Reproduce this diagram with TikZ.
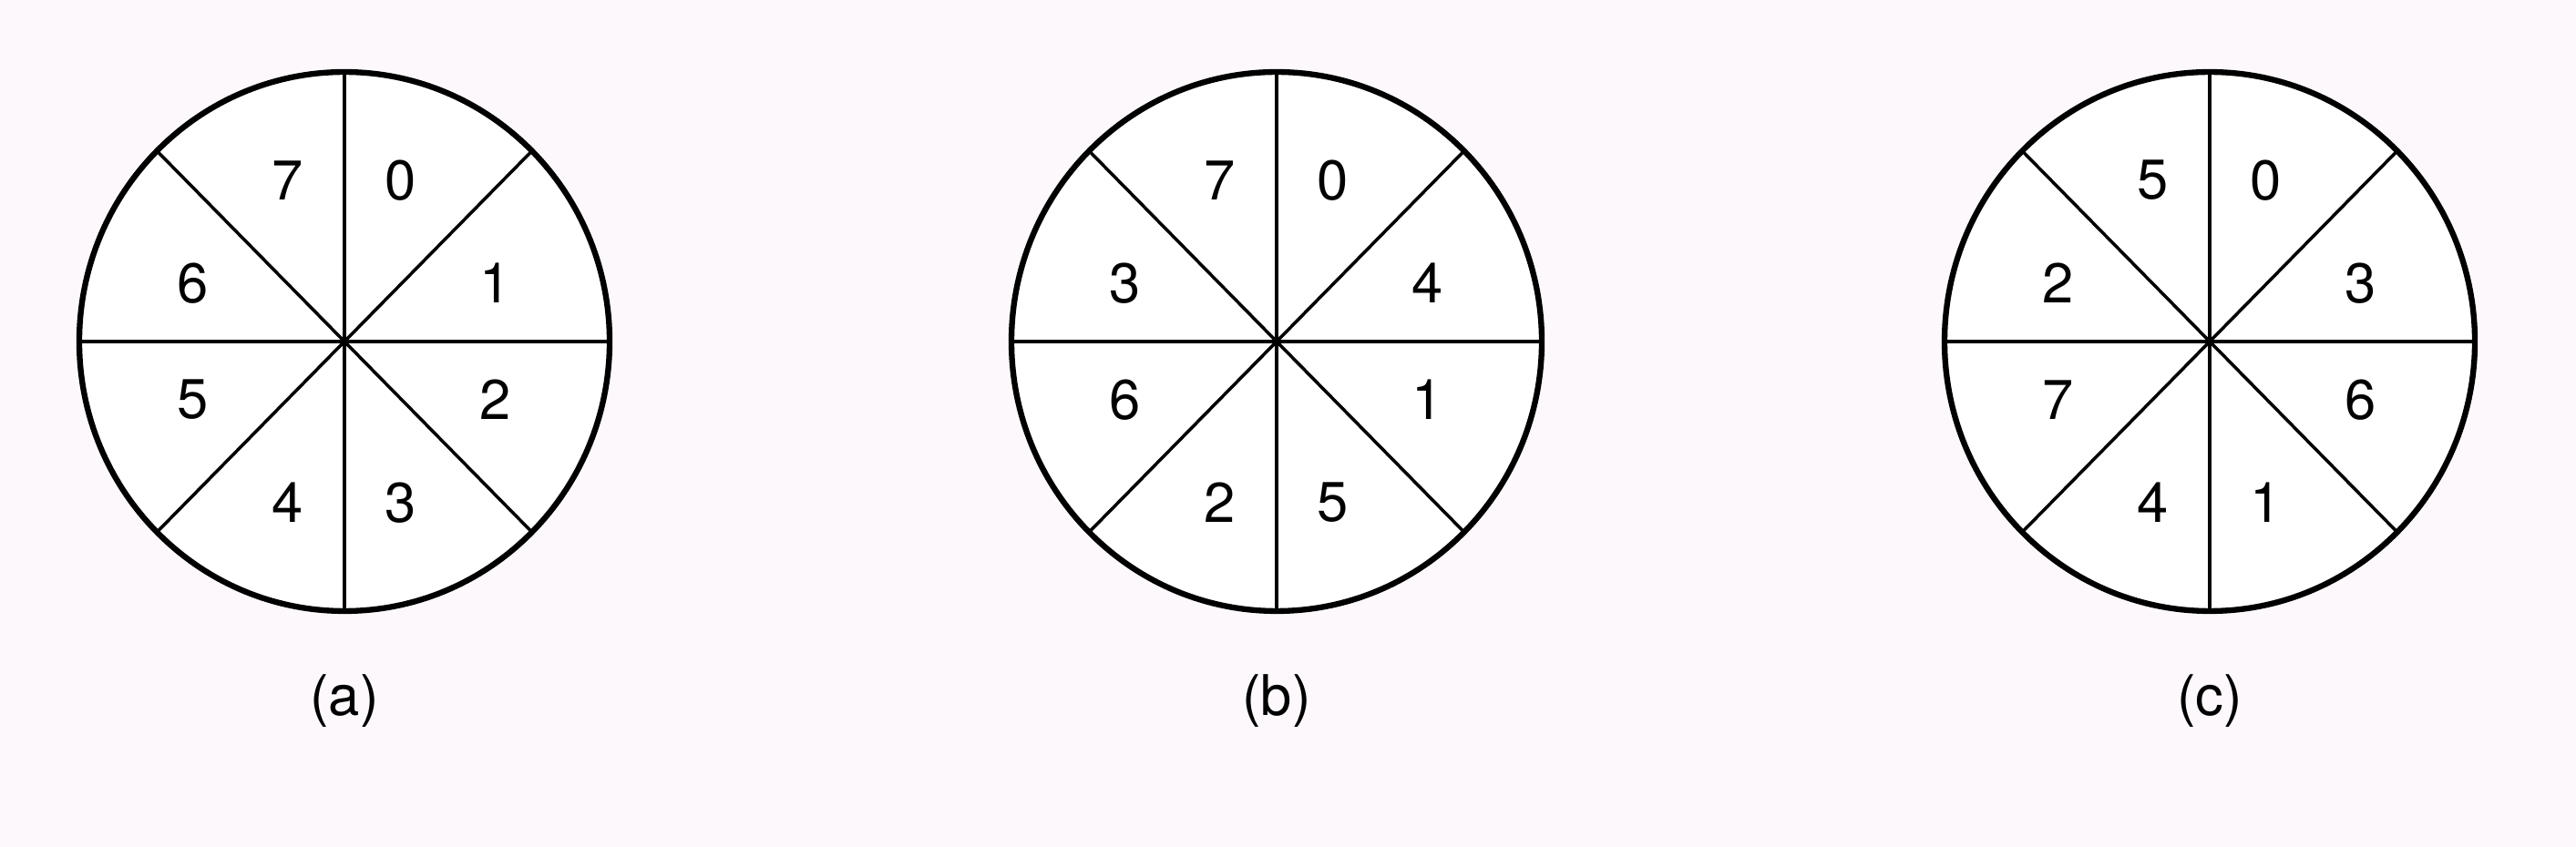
\documentclass[tikz,border=0pt]{standalone}
\usepackage{fontspec}
\setmainfont{TeX Gyre Heros}
\usetikzlibrary{positioning}
\definecolor{paper}{RGB}{252,248,252}

\begin{document}
\begin{tikzpicture}[every node/.style={font=\fontsize{17.5}{20}\selectfont,inner sep=0pt},
  rim/.style={line width=1.8pt},
  spoke/.style={line width=1pt}]
\fill[paper] (0,0) rectangle (28.27,9.30);
\useasboundingbox (0,0) rectangle (28.27,9.30);
% wheel (a)
\begin{scope}[shift={(3.78,5.55)},yscale=1.017]
\coordinate (ca) at (0,0);
\fill[white] (ca) circle (2.91);
\foreach \t in {0,45,...,315} \draw[spoke] (ca) -- (\t:2.91);
\draw[rim] (ca) circle (2.91);
\node (a0) at (0.62,1.74) {0};
\node (a1) at (1.66,0.63) {1};
\node (a2) at (1.66,-0.63) {2};
\node (a3) at (0.62,-1.74) {3};
\node (a4) at (-0.62,-1.74) {4};
\node (a5) at (-1.66,-0.63) {5};
\node (a6) at (-1.66,0.63) {6};
\node (a7) at (-0.62,1.74) {7};
\end{scope}
% wheel (b)
\begin{scope}[shift={(14.01,5.55)},yscale=1.017]
\coordinate (cb) at (0,0);
\fill[white] (cb) circle (2.91);
\foreach \t in {0,45,...,315} \draw[spoke] (cb) -- (\t:2.91);
\draw[rim] (cb) circle (2.91);
\node (b0) at (0.62,1.74) {0};
\node (b4) at (1.66,0.63) {4};
\node (b1) at (1.66,-0.63) {1};
\node (b5) at (0.62,-1.74) {5};
\node (b2) at (-0.62,-1.74) {2};
\node (b6) at (-1.66,-0.63) {6};
\node (b3) at (-1.66,0.63) {3};
\node (b7) at (-0.62,1.74) {7};
\end{scope}
% wheel (c)
\begin{scope}[shift={(24.25,5.55)},yscale=1.017]
\coordinate (cc) at (0,0);
\fill[white] (cc) circle (2.91);
\foreach \t in {0,45,...,315} \draw[spoke] (cc) -- (\t:2.91);
\draw[rim] (cc) circle (2.91);
\node (c0) at (0.62,1.74) {0};
\node (c3) at (1.66,0.63) {3};
\node (c6) at (1.66,-0.63) {6};
\node (c1) at (0.62,-1.74) {1};
\node (c4) at (-0.62,-1.74) {4};
\node (c7) at (-1.66,-0.63) {7};
\node (c2) at (-1.66,0.63) {2};
\node (c5) at (-0.62,1.74) {5};
\end{scope}
% captions
\node (capa) at (3.78,1.60) {(a)};
\node (capb) at (14.01,1.60) {(b)};
\node (capc) at (24.25,1.60) {(c)};
\end{tikzpicture}
\end{document}
